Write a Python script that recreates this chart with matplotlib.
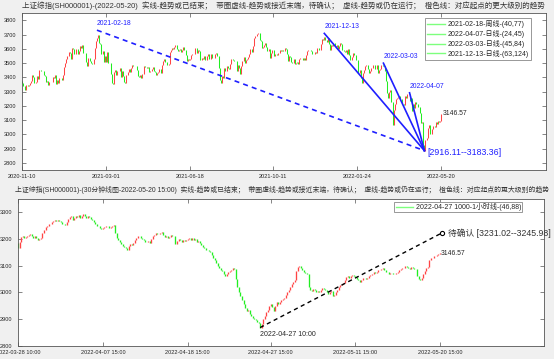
import numpy as np
import matplotlib.pyplot as plt
from matplotlib.lines import Line2D

plt.rcParams['font.family'] = ['Liberation Sans', 'Noto Sans CJK SC']

# ---------------- 日线数据 (收盘价, 按月) ----------------
nov20 = [3360, 3342, 3338, 3310, 3346, 3339, 3347, 3363, 3377, 3414, 3402, 3362, 3369, 3408, 3391]
dec20 = [3451, 3449, 3442, 3444, 3416, 3410, 3371, 3373, 3347, 3369, 3367, 3366, 3404, 3394, 3420,
         3356, 3382, 3363, 3397, 3397, 3379, 3414, 3473]
jan21 = [3502, 3528, 3550, 3576, 3570, 3531, 3608, 3598, 3566, 3566, 3596, 3566, 3584, 3621, 3606,
         3625, 3570, 3573, 3506, 3483]
feb21 = [3533, 3533, 3517, 3501, 3496, 3532, 3603, 3655, 3675, 3696, 3642, 3636, 3564, 3585, 3509]
mar21 = [3551, 3508, 3576, 3503, 3502, 3421, 3360, 3357, 3436, 3453, 3419, 3446, 3445, 3463, 3405,
         3443, 3411, 3367, 3363, 3418, 3435, 3457, 3441]
apr21 = [3466, 3484, 3478, 3479, 3482, 3450, 3412, 3403, 3417, 3399, 3426, 3477, 3473, 3472, 3465,
         3474, 3441, 3442, 3457, 3474, 3447]
may21 = [3441, 3418, 3428, 3441, 3462, 3430, 3490, 3517, 3529, 3510, 3507, 3487, 3497, 3581, 3593,
         3608, 3600, 3615]
jun21 = [3625, 3597, 3584, 3592, 3599, 3580, 3591, 3610, 3589, 3556, 3518, 3526, 3525, 3529, 3557,
         3567, 3566, 3607, 3606, 3574, 3591]
jul21 = [3588, 3519, 3534, 3530, 3553, 3525, 3524, 3548, 3567, 3528, 3564, 3539, 3539, 3536, 3562,
         3574, 3551, 3467, 3382, 3361, 3411, 3397]
aug21 = [3464, 3447, 3477, 3466, 3458, 3494, 3530, 3532, 3524, 3517, 3517, 3447, 3486, 3465, 3427,
         3477, 3514, 3540, 3501, 3522, 3528, 3544]
sep21 = [3567, 3597, 3581, 3621, 3676, 3693, 3693, 3703, 3715, 3662, 3656, 3607, 3613, 3628, 3643,
         3613, 3582, 3602, 3536, 3568]
oct21 = [3592, 3591, 3547, 3562, 3558, 3572, 3568, 3593, 3587, 3594, 3582, 3609, 3598, 3562, 3518, 3547]
nov21 = [3544, 3505, 3499, 3526, 3491, 3498, 3507, 3492, 3532, 3539, 3533, 3522, 3537, 3520, 3560,
         3582, 3589, 3592, 3584, 3564, 3562, 3564]
dec21 = [3576, 3573, 3607, 3589, 3595, 3637, 3673, 3666, 3681, 3661, 3647, 3675, 3632, 3593, 3625,
         3622, 3643, 3618, 3615, 3630, 3597, 3619, 3640]
jan22 = [3632, 3595, 3586, 3580, 3593, 3567, 3597, 3555, 3521, 3541, 3569, 3558, 3555, 3522, 3524,
         3434, 3455, 3394, 3361]
feb22 = [3429, 3452, 3479, 3485, 3462, 3429, 3446, 3466, 3468, 3490, 3490, 3457, 3489, 3429, 3451, 3462]
mar22 = [3488, 3484, 3481, 3447, 3372, 3294, 3256, 3296, 3310, 3224, 3064, 3171, 3216, 3251, 3253,
         3259, 3271, 3250, 3212, 3215, 3203, 3266, 3252]
apr22 = [3283, 3283, 3236, 3252, 3167, 3213, 3186, 3225, 3211, 3195, 3194, 3151, 3079, 3087, 2929,
         2886, 2958, 2975, 3047]
may22 = [3068, 3002, 3004, 3035, 3058, 3054, 3084, 3073, 3093, 3086, 3096, 3146.57]
day_first_open = 3373.7

day_ticks = ['2020-11-10', '2021-03-01', '2021-06-18', '2021-10-11', '2022-01-24', '2022-05-20']

# 趋势起点 (K线序号, 起点价格)
trend_dates = ['2021-02-18', '2021-12-13', '2022-03-03', '2022-04-07']
trend_bar = [66, 266, 318, 341]
trend_price = [3731.69, 3708.94, 3500.0, 3292.0]
trend_dashed = [True, False, False, False]
legend_day = ['2021-02-18-周线-(40,77)', '2022-04-07-日线-(24,45)',
              '2022-03-03-日线-(45,84)', '2021-12-13-日线-(63,124)']
target_day = '[2916.11--3183.36]'

# ---------------- 30分钟线数据 (每天8根) ----------------
m30 = [
    [3165, 3190, 3208, 3212, 3203, 3206, 3212, 3215],   # 03-28
    [3220, 3212, 3205, 3210, 3202, 3198, 3200, 3203],   # 03-29
    [3222, 3235, 3245, 3250, 3255, 3258, 3262, 3266],   # 03-30
    [3270, 3266, 3272, 3268, 3262, 3258, 3255, 3252],   # 03-31
    [3262, 3275, 3282, 3288, 3270, 3278, 3285, 3283],   # 04-01
    [3290, 3280, 3285, 3292, 3286, 3280, 3286, 3283],   # 04-06
    [3275, 3270, 3265, 3258, 3250, 3248, 3242, 3236],   # 04-07
    [3240, 3246, 3250, 3248, 3243, 3246, 3249, 3252],   # 04-08
    [3222, 3205, 3195, 3188, 3180, 3175, 3170, 3167],   # 04-11
    [3160, 3172, 3180, 3176, 3185, 3195, 3205, 3213],   # 04-12
    [3210, 3205, 3200, 3195, 3190, 3188, 3192, 3186],   # 04-13
    [3200, 3210, 3215, 3222, 3220, 3218, 3224, 3225],   # 04-14
    [3215, 3208, 3212, 3205, 3209, 3214, 3210, 3211],   # 04-15
    [3180, 3192, 3200, 3195, 3190, 3198, 3192, 3195],   # 04-18
    [3200, 3205, 3198, 3202, 3196, 3200, 3190, 3194],   # 04-19
    [3185, 3178, 3170, 3165, 3160, 3158, 3155, 3151],   # 04-20
    [3140, 3130, 3120, 3110, 3100, 3092, 3085, 3079],   # 04-21
    [3070, 3062, 3068, 3075, 3080, 3084, 3090, 3087],   # 04-22
    [3050, 3020, 3000, 2985, 2970, 2955, 2940, 2929],   # 04-25
    [2935, 2920, 2910, 2905, 2900, 2895, 2890, 2886],   # 04-26
    [2868, 2880, 2900, 2910, 2925, 2935, 2950, 2958],   # 04-27
    [2945, 2930, 2950, 2965, 2958, 2962, 2970, 2975],   # 04-28
    [2980, 2990, 3000, 3010, 3020, 3030, 3040, 3047],   # 04-29
    [3080, 3095, 3100, 3090, 3085, 3078, 3072, 3068],   # 05-05
    [3020, 3010, 3005, 3012, 3008, 3000, 3004, 3002],   # 05-06
    [3010, 3018, 3012, 3008, 3000, 2995, 3002, 3004],   # 05-09
    [2985, 2990, 3000, 3010, 3020, 3028, 3032, 3035],   # 05-10
    [3045, 3058, 3062, 3055, 3060, 3065, 3060, 3058],   # 05-11
    [3050, 3045, 3040, 3048, 3052, 3055, 3050, 3054],   # 05-12
    [3060, 3066, 3070, 3075, 3072, 3078, 3082, 3084],   # 05-13
    [3088, 3092, 3085, 3078, 3075, 3070, 3072, 3073],   # 05-16
    [3070, 3068, 3072, 3078, 3082, 3088, 3090, 3093],   # 05-17
    [3100, 3096, 3092, 3088, 3094, 3090, 3088, 3086],   # 05-18
    [3060, 3050, 3045, 3055, 3068, 3080, 3090, 3096],   # 05-19
    [3120, 3130, 3128, 3135, 3138, 3140, 3142, 3146.57],  # 05-20
]
m30_first_open = 3185
m30_ticks = ['2022-03-28 10:00', '2022-04-07 15:00', '2022-04-18 15:00',
             '2022-04-27 15:00', '2022-05-11 15:00', '2022-05-20 15:00']
m30_target_bar = 280
m30_target_price = 3222
m30_legend = '2022-04-27 1000-1小时线-(46,88)'
m30_target_text = '待确认 [3231.02--3245.98]'
low_label = '2022-04-27 10:00'

title1 = ('上证综指(SH000001)-(2022-05-20)  实线-趋势或已结束；  带圈虚线-趋势或接近末端，待确认；  '
          '虚线-趋势或仍在运行；  橙色线：对应起点的更大级别的趋势')
title2 = ('上证综指(SH000001)-(30分钟线图-2022-05-20 15:00)  实线-趋势或已结束；  带圈虚线-趋势或接近末端，待确认；  '
          '虚线-趋势或仍在运行；  橙色线：对应起点的更大级别的趋势')

UP = '#ff4545'
DOWN = '#22ee22'
BLUE = '#1f1fff'


def candles(ax, closes, first_open, lw):
    closes = np.asarray(closes, dtype=float)
    opens = np.concatenate([[first_open], closes[:-1]])
    x = np.arange(len(closes))
    col = np.where(closes >= opens, UP, DOWN)
    ax.vlines(x, np.minimum(opens, closes), np.maximum(opens, closes), colors=col, linewidth=lw)
    return x, closes


def style_axes(ax):
    ax.set_facecolor('white')
    for s in ax.spines.values():
        s.set_color('#555555')
        s.set_linewidth(0.6)
    ax.tick_params(direction='in', length=3, width=0.5, color='#555555',
                   top=True, right=True, labelsize=4.1, labelcolor='#262626')
    ax.tick_params(axis='y', pad=4.2)
    ax.tick_params(axis='x', pad=3)


fig = plt.figure(figsize=(5.54, 3.59), dpi=100, facecolor='#f0f0f0')
ax1 = fig.add_axes([21.9 / 554, 1 - 170 / 359, 524.1 / 554, 156.7 / 359])
ax2 = fig.add_axes([18.3 / 554, 1 - 345.7 / 359, 526 / 554, 146.7 / 359])

# ---------------- 上图：日线 ----------------
daily = (nov20 + dec20 + jan21 + feb21 + mar21 + apr21 + may21 + jun21 + jul21 + aug21 + sep21
         + oct21 + nov21 + dec21 + jan22 + feb22 + mar22 + apr22 + may22)
x1, c1 = candles(ax1, daily, day_first_open, 0.75)
low_i = int(np.argmin(c1))
for b, p, d, dashed in zip(trend_bar, trend_price, trend_dates, trend_dashed):
    ax1.plot([b, low_i], [p, c1[low_i]], color=BLUE, lw=1.2,
             ls=(0, (3, 2.5)) if dashed else '-')
    ax1.annotate(d, (b, p), xytext=(0, 4.8), textcoords='offset points',
                 ha='left', va='center', fontsize=4.9, color=BLUE)
ax1.annotate(target_day, (low_i, c1[low_i]), xytext=(2.5, -1.5), textcoords='offset points',
             ha='left', va='center', fontsize=6.3, color=BLUE)
ax1.annotate(f'{c1[-1]:.2f}', (x1[-1], c1[-1]), xytext=(0.8, 0), textcoords='offset points',
             ha='left', va='center', fontsize=4.85, color='#262626')

ax1.set_xlim(0, 461)
ax1.set_ylim(2750, 3850)
ax1.set_yticks(np.arange(2800, 3801, 100))
ax1.set_xticks(np.round(np.linspace(0, len(c1) - 1, 6)))
ax1.set_xticklabels(day_ticks)
style_axes(ax1)
h1 = [Line2D([], [], color='#7dff7d', lw=1.0) for _ in legend_day]
leg1 = ax1.legend(h1, legend_day, loc='upper right', bbox_to_anchor=(0.971, 0.970),
                  borderaxespad=0, fontsize=5, handlelength=2.55, handletextpad=0.35,
                  labelspacing=0.28, borderpad=0.3, fancybox=False, framealpha=1)
leg1.get_frame().set_edgecolor('#888888')
leg1.get_frame().set_linewidth(0.6)
for t in leg1.get_texts():
    t.set_color('#262626')

# ---------------- 下图：30分钟线 ----------------
bars = [v for day in m30 for v in day]
x2, c2 = candles(ax2, bars, m30_first_open, 0.95)
low2 = int(np.argmin(c2))
ax2.plot([low2, m30_target_bar], [c2[low2], m30_target_price], color='black', lw=1.0,
         ls=(0, (3, 2.5)))
ax2.plot([m30_target_bar], [m30_target_price], 'o', mfc='none', mec='black', ms=3, mew=0.8)
ax2.annotate(m30_target_text, (m30_target_bar, m30_target_price), xytext=(5, 0),
             textcoords='offset points', ha='left', va='center', fontsize=6.3,
             color='#333333', annotation_clip=False)
ax2.annotate(low_label, (low2, c2[low2]), xytext=(0, -5), textcoords='offset points',
             ha='left', va='center', fontsize=5, color='#262626')
ax2.annotate(f'{c2[-1]:.2f}', (x2[-1], c2[-1]), xytext=(0.8, 0), textcoords='offset points',
             ha='left', va='center', fontsize=4.85, color='#262626')

ax2.set_xlim(0, 348)
ax2.set_ylim(2800, 3350)
ax2.set_yticks(np.arange(2800, 3301, 100))
ax2.set_xticks(np.round(np.linspace(0, len(c2) - 1, 6)))
ax2.set_xticklabels(m30_ticks)
style_axes(ax2)
leg2 = ax2.legend([Line2D([], [], color='#7dff7d', lw=1.0)], [m30_legend], loc='upper right',
                  bbox_to_anchor=(0.958, 0.977), borderaxespad=0, fontsize=5,
                  handlelength=2.55, handletextpad=0.35, borderpad=0.15,
                  fancybox=False, framealpha=1)
leg2.get_frame().set_edgecolor('#888888')
leg2.get_frame().set_linewidth(0.6)
for t in leg2.get_texts():
    t.set_color('#262626')

fig.text(283.5 / 554, 1 - 6 / 359, title1, ha='center', va='center', fontsize=5.4, color='#333333')
fig.text(282.5 / 554, 1 - 190 / 359, title2, ha='center', va='center', fontsize=4.95, color='#333333')

fig.savefig('out.png', dpi=100, facecolor=fig.get_facecolor())
